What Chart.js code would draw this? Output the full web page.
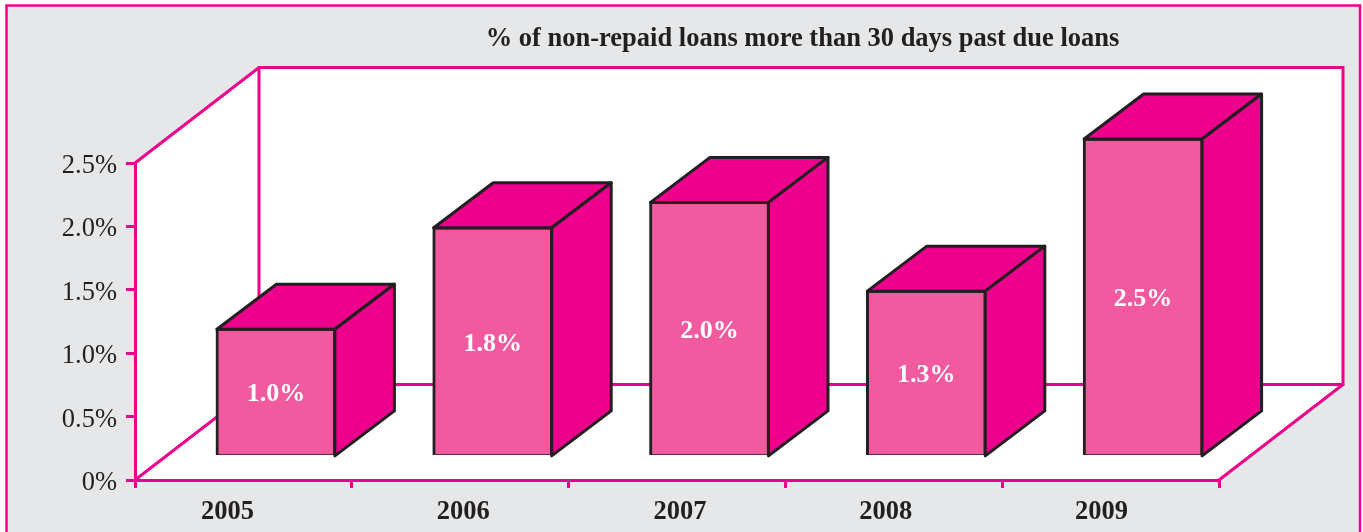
<!DOCTYPE html>
<html>
<head>
<meta charset="utf-8">
<title>Non-repaid loans</title>
<script src="https://cdn.jsdelivr.net/npm/chart.js@4/dist/chart.umd.min.js"></script>
<style>
  html, body { margin: 0; padding: 0; background: #fff; overflow: hidden; }
  canvas { display: block; }
</style>
</head>
<body>
<canvas id="myChart" width="1363" height="532"></canvas>
<script>
const titleText = '% of non-repaid loans more than 30 days past due loans';
const years = ['2005', '2006', '2007', '2008', '2009'];
const pastDue = [1.0, 1.8, 2.0, 1.3, 2.5];
const yearShift = [-16, 3, 3, -8, -9]; // year labels sit a bit off the slot centres

const PINK = '#ec008c';
const FACE = '#f15a9f';
const DARK = '#231f20';
const GREY = '#e6e7e8';
const SERIF = '"Liberation Serif", serif';

// how far the box walls recede, and where the bars stand on the floor
const WALL_X = 124, WALL_Y = -95.5;
const BAR_X = 32.5, BAR_Y = -25;
const DEPTH_X = 59.5, DEPTH_Y = -45;

function poly(ctx, pts) {
	ctx.beginPath();
	pts.forEach((p, i) => i ? ctx.lineTo(p[0], p[1]) : ctx.moveTo(p[0], p[1]));
}

const box3d = {
	id: 'box3d',
	// title is centred over the back wall, not the whole page
	afterLayout(chart) {
		chart.titleBlock.left = 242;
		chart.titleBlock.right = 1363;
	},
	// page frame and the white walls, behind the axes
	beforeDraw(chart) {
		const ctx = chart.ctx;
		const a = chart.chartArea;
		ctx.save();
		ctx.fillStyle = GREY;
		ctx.fillRect(6, 6, 1354, 526);
		ctx.strokeStyle = PINK;
		ctx.lineWidth = 2.5;
		poly(ctx, [[6.5, 532], [6.5, 5.5], [1360, 5.5], [1360, 532]]);
		ctx.stroke();

		const bx = a.left + WALL_X, by = a.top + WALL_Y;
		const fx = a.right + WALL_X, fy = a.bottom + WALL_Y;
		ctx.fillStyle = '#fff';
		poly(ctx, [[a.left, a.top], [bx, by], [fx, by], [fx, fy], [a.right, a.bottom], [a.left, a.bottom]]);
		ctx.closePath();
		ctx.fill();

		ctx.lineWidth = 3;
		ctx.lineCap = 'round';
		poly(ctx, [[a.left, a.top], [bx, by], [fx, by], [fx, fy], [a.right, a.bottom]]);
		ctx.stroke();
		poly(ctx, [[a.left, a.bottom], [bx, fy], [fx, fy]]);
		ctx.stroke();
		poly(ctx, [[bx, by], [bx, fy]]);
		ctx.stroke();
		ctx.restore();
	},
	// bars stand further back than the front axis line
	beforeDatasetDraw(chart) {
		chart.ctx.save();
		chart.ctx.translate(BAR_X, BAR_Y);
	},
	afterDatasetDraw(chart, args) {
		const ctx = chart.ctx;
		ctx.fillStyle = PINK;
		ctx.strokeStyle = DARK;
		ctx.lineWidth = 3;
		ctx.lineJoin = 'round';
		args.meta.data.forEach((bar) => {
			const l = bar.x - bar.width / 2 + 1, r = bar.x + bar.width / 2 - 1;
			const t = bar.y + 1, b = bar.base - 1;
			poly(ctx, [[l, t], [l + DEPTH_X, t + DEPTH_Y], [r + DEPTH_X, t + DEPTH_Y], [r, t]]);
			ctx.closePath();
			ctx.fill();
			ctx.stroke();
			poly(ctx, [[r, t], [r + DEPTH_X, t + DEPTH_Y], [r + DEPTH_X, b + DEPTH_Y], [r, b]]);
			ctx.closePath();
			ctx.fill();
			ctx.stroke();
		});
		// value labels in the middle of each front face
		ctx.fillStyle = '#fff';
		ctx.font = 'bold 26px ' + SERIF;
		ctx.textAlign = 'center';
		ctx.textBaseline = 'middle';
		args.meta.data.forEach((bar, i) => {
			ctx.fillText(pastDue[i].toFixed(1) + '%', bar.x, (bar.y + bar.base) / 2 + 2);
		});
		ctx.restore();
	},
	afterDraw(chart) {
		const ctx = chart.ctx;
		const x = chart.scales.x;
		ctx.save();
		ctx.fillStyle = DARK;
		ctx.font = 'bold 26.5px ' + SERIF;
		ctx.textAlign = 'center';
		ctx.textBaseline = 'middle';
		years.forEach((year, i) => {
			ctx.fillText(year, x.getPixelForValue(i) + yearShift[i], 512);
		});
		ctx.restore();
	}
};

new Chart(document.getElementById('myChart'), {
	type: 'bar',
	data: {
		labels: years,
		datasets: [{
			data: pastDue,
			base: -0.015, // the outline's bottom edge sits just under the zero line
			backgroundColor: FACE,
			borderColor: DARK,
			borderWidth: 3,
			borderSkipped: false,
			barThickness: 120
		}]
	},
	options: {
		responsive: false,
		animation: false,
		layout: { padding: { right: 144 } },
		plugins: {
			legend: { display: false },
			tooltip: { enabled: false },
			title: {
				display: true,
				text: titleText,
				color: DARK,
				font: { family: SERIF, size: 26.5, weight: 'bold' },
				padding: { top: 23, bottom: 108.2 }
			}
		},
		scales: {
			x: {
				afterFit(scale) { scale.height = 52; },
				border: { color: PINK, width: 3 },
				grid: { offset: true, drawOnChartArea: false, color: PINK, lineWidth: 3, tickLength: 8 },
				ticks: { display: false }
			},
			y: {
				min: 0,
				max: 2.5,
				afterFit(scale) { scale.width = 135; },
				border: { color: PINK, width: 3 },
				grid: { drawOnChartArea: false, color: PINK, lineWidth: 3, tickLength: 9 },
				ticks: {
					stepSize: 0.5,
					color: DARK,
					padding: 9,
					labelOffset: 3,
					font: { family: SERIF, size: 26.5 },
					callback: (v) => v === 0 ? '0%' : v.toFixed(1) + '%'
				}
			}
		}
	},
	plugins: [box3d]
});
</script>
</body>
</html>
